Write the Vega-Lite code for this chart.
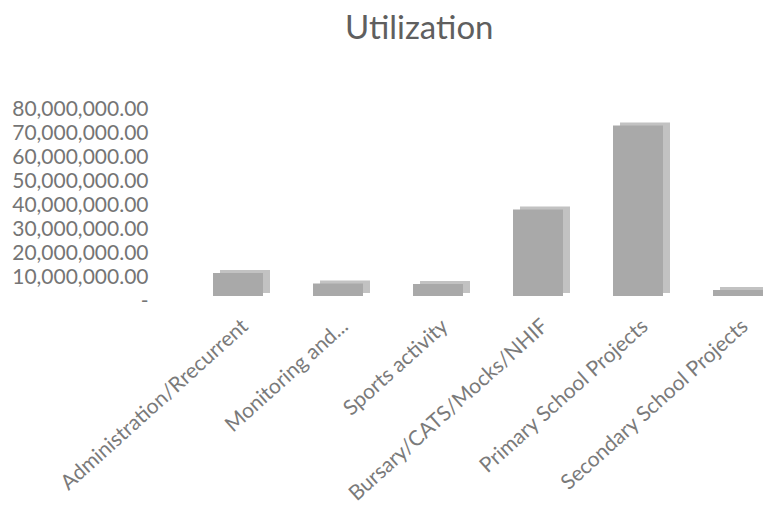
{
  "$schema": "https://vega.github.io/schema/vega-lite/v6.json",
  "autosize": "none",
  "padding": {"left": 188, "top": 109, "right": 0, "bottom": 211},
  "width": 600,
  "height": 192,
  "background": "white",
  "title": {
    "text": "Utilization",
    "anchor": "start",
    "frame": "group",
    "dx": 157,
    "offset": 52,
    "font": "Lato",
    "fontSize": 33,
    "fontWeight": "normal",
    "color": "#5f5f5f"
  },
  "data": {
    "values": [
      {"category": "Administration/Rrecurrent", "value": 9600000},
      {"category": "Monitoring and...", "value": 5200000},
      {"category": "Sports activity", "value": 5000000},
      {"category": "Bursary/CATS/Mocks/NHIF", "value": 36000000},
      {"category": "Primary School Projects", "value": 71000000},
      {"category": "Secondary School Projects", "value": 2500000}
    ]
  },
  "encoding": {
    "x": {
      "field": "category",
      "type": "nominal",
      "sort": null,
      "scale": {"paddingInner": 0.5, "paddingOuter": 0.25},
      "axis": {
        "title": null,
        "domain": false,
        "ticks": false,
        "labelAngle": -42,
        "labelPadding": 14,
        "labelFont": "Lato",
        "labelFontSize": 21,
        "labelColor": "#7a7a7a",
        "labelLimit": 400
      }
    },
    "y": {
      "field": "value",
      "type": "quantitative",
      "scale": {"domain": [0, 80000000]},
      "axis": {
        "title": null,
        "domain": false,
        "ticks": false,
        "grid": false,
        "tickCount": 8,
        "offset": 30,
        "labelPadding": 10,
        "labelFont": "Lato",
        "labelFontSize": 21,
        "labelColor": "#757575",
        "labelExpr": "datum.value == 0 ? '-  ' : format(datum.value, ',.2f')"
      }
    }
  },
  "layer": [
    {"mark": {"type": "bar", "color": "#c2c2c2", "xOffset": 7, "yOffset": -8}},
    {"mark": {"type": "bar", "color": "#a9a9a9", "xOffset": 0, "yOffset": -5}}
  ],
  "config": {"view": {"stroke": null}}
}
